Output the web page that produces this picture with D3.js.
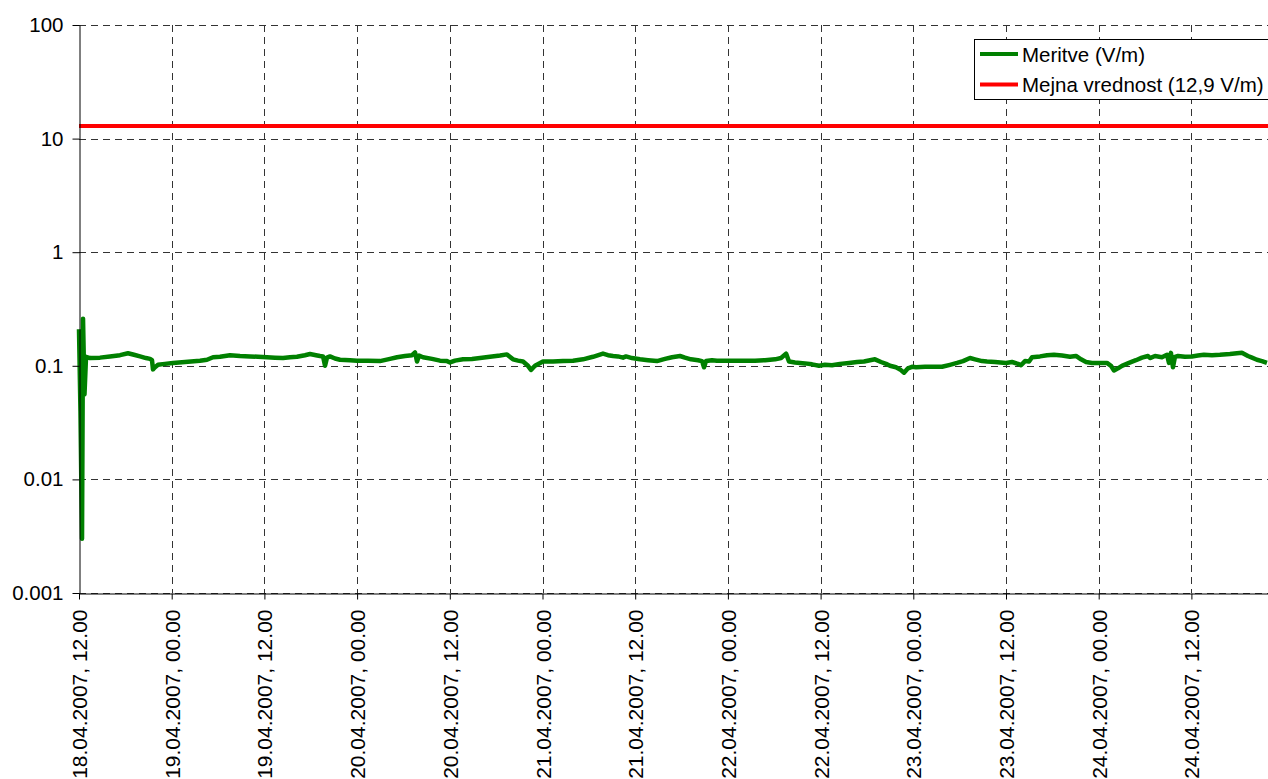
<!DOCTYPE html>
<html>
<head>
<meta charset="utf-8">
<script src="https://cdn.jsdelivr.net/npm/d3@7"></script>
<style>
  html, body { margin: 0; padding: 0; background: #fff; }
  svg { display: block; font-family: "Liberation Sans", Arial, sans-serif; }
</style>
</head>
<body>
<svg id="chart" width="1268" height="779"></svg>
<script>
// ---- data ----
const startTime = "2007-04-18T12:00:00";
const endHours = 154; // visible range end (hours after start)
// measurement times (hours after 18.04.2007 12:00)
const measHours = [
  0, 0.19, 0.39, 0.52, 0.71, 0.91, 1.42, 2.72, 4.01, 5.31, 6.34, 7.12, 7.90, 8.67, 9.19, 9.45, 9.58, 9.84, 10.23, 11.13,
  12.17, 13.72, 15.66, 16.57, 17.35, 18.25, 19.55, 20.84, 22.14, 23.17, 24.34, 25.37, 26.41, 27.31, 28.22, 29.25, 29.90,
  30.68, 31.20, 31.59, 31.85, 32.10, 32.49, 33.14, 33.79, 35.08, 35.99, 37.41, 38.96, 40.26, 41.17, 42.20, 43.11, 43.50,
  43.76, 44.02, 44.53, 45.70, 46.73, 47.64, 48.03, 48.67, 49.71, 50.87, 51.91, 53.20, 54.50, 55.40, 56.18, 56.83, 57.48,
  58.12, 58.51, 59.03, 60.06, 61.36, 62.65, 63.95, 65.24, 66.54, 67.83, 68.48, 69.13, 69.77, 70.42, 70.81, 71.59, 72.62,
  73.66, 74.82, 75.86, 76.76, 77.80, 78.44, 79.22, 80.13, 80.65, 80.91, 81.17, 81.94, 82.59, 83.88, 85.57, 87.51, 88.81,
  90.10, 90.88, 91.53, 91.91, 92.69, 93.98, 94.89, 95.79, 96.57, 97.48, 98.51, 99.68, 100.72, 101.62, 102.40, 103.04,
  103.82, 104.47, 104.98, 105.76, 106.28, 106.80, 107.31, 107.83, 108.35, 109.52, 110.81, 111.72, 112.75, 113.66, 114.44,
  115.34, 115.99, 116.90, 117.54, 118.58, 120.00, 120.78, 121.55, 121.94, 122.46, 122.98, 123.37, 124.40, 125.31, 126.21,
  127.25, 128.28, 129.06, 129.71, 130.36, 131.13, 132.17, 133.07, 133.59, 133.98, 134.50, 135.01, 135.92, 136.82, 137.60,
  138.38, 138.64, 139.29, 140.19, 140.84, 141.10, 141.35, 141.61, 141.87, 142.26, 143.16, 144.07, 144.84, 145.62, 146.66,
  147.69, 148.99, 149.89, 150.54, 151.32, 151.84, 152.48, 153.13, 153.78
];
// measured field strength (V/m)
const measValues = [
  0.21, 0.04, 0.003, 0.26, 0.056, 0.12, 0.117, 0.118, 0.121, 0.124, 0.129, 0.125, 0.121, 0.117, 0.115, 0.112, 0.093, 0.097, 0.102, 0.104,
  0.106, 0.108, 0.111, 0.113, 0.119, 0.12, 0.124, 0.122, 0.121, 0.12, 0.119, 0.118, 0.117, 0.119, 0.12, 0.124, 0.127,
  0.124, 0.122, 0.121, 0.1, 0.118, 0.121, 0.116, 0.113, 0.112, 0.111, 0.111, 0.11, 0.115, 0.119, 0.122, 0.124, 0.131,
  0.109, 0.123, 0.119, 0.115, 0.111, 0.11, 0.107, 0.111, 0.114, 0.115, 0.117, 0.12, 0.123, 0.126, 0.114, 0.111, 0.109,
  0.1, 0.092, 0.1, 0.109, 0.109, 0.11, 0.111, 0.114, 0.12, 0.128, 0.124, 0.122, 0.121, 0.118, 0.121, 0.117, 0.114,
  0.112, 0.11, 0.115, 0.119, 0.122, 0.118, 0.114, 0.112, 0.11, 0.097, 0.11, 0.112, 0.111, 0.111, 0.111, 0.111, 0.112,
  0.114, 0.117, 0.128, 0.109, 0.107, 0.105, 0.103, 0.1, 0.102, 0.101, 0.104, 0.106, 0.108, 0.109, 0.112, 0.114,
  0.108, 0.104, 0.1, 0.097, 0.093, 0.087, 0.095, 0.098, 0.097, 0.098, 0.098, 0.098, 0.102, 0.106, 0.11,
  0.117, 0.114, 0.11, 0.109, 0.108, 0.106, 0.108, 0.104, 0.101, 0.11, 0.109, 0.119, 0.121, 0.124, 0.125,
  0.123, 0.12, 0.122, 0.114, 0.108, 0.106, 0.106, 0.106, 0.1, 0.091, 0.095, 0.1, 0.106, 0.112, 0.118,
  0.122, 0.117, 0.122, 0.119, 0.125, 0.106, 0.13, 0.097, 0.12, 0.122, 0.12, 0.121, 0.123, 0.125, 0.124,
  0.125, 0.127, 0.129, 0.13, 0.122, 0.118, 0.113, 0.11, 0.106
];
const limitValue = 12.9;
const seriesNames = ["Meritve (V/m)", "Mejna vrednost (12,9 V/m)"];
const seriesColors = ["#008000", "#ff0000"];
const xTickHours = [0, 12, 24, 36, 48, 60, 72, 84, 96, 108, 120, 132, 144];
const xTickLabels = [
  "18.04.2007, 12.00", "19.04.2007, 00.00", "19.04.2007, 12.00", "20.04.2007, 00.00",
  "20.04.2007, 12.00", "21.04.2007, 00.00", "21.04.2007, 12.00", "22.04.2007, 00.00",
  "22.04.2007, 12.00", "23.04.2007, 00.00", "23.04.2007, 12.00", "24.04.2007, 00.00",
  "24.04.2007, 12.00"
];
const yTickValues = [0.001, 0.01, 0.1, 1, 10, 100];
const yTickLabels = ["0.001", "0.01", "0.1", "1", "10", "100"];

// ---- layout ----
const margin = { left: 79, top: 25 };
const plotRight = 1268.65;
const plotBottom = 593;

const t0 = new Date(startTime);
const hToDate = h => new Date(t0.getTime() + h * 3600 * 1000);

const x = d3.scaleTime()
  .domain([t0, hToDate(endHours)])
  .range([margin.left, plotRight]);
const y = d3.scaleLog()
  .domain([0.001, 100])
  .range([plotBottom, margin.top]);

const svg = d3.select("#chart");

// grid
const grid = svg.append("g").attr("class", "grid");
grid.selectAll("line.h").data(yTickValues).join("line")
  .attr("x1", margin.left).attr("x2", 1268)
  .attr("y1", d => Math.round(y(d)) + 0.5).attr("y2", d => Math.round(y(d)) + 0.5)
  .attr("stroke", "#333").attr("stroke-width", 1).attr("stroke-dasharray", "7,5");
grid.selectAll("line.v").data(xTickHours.slice(1)).join("line")
  .attr("x1", d => Math.round(x(hToDate(d))) + 0.5).attr("x2", d => Math.round(x(hToDate(d))) + 0.5)
  .attr("y1", margin.top).attr("y2", plotBottom)
  .attr("stroke", "#333").attr("stroke-width", 1).attr("stroke-dasharray", "7,5");

// limit line
svg.append("line")
  .attr("x1", margin.left).attr("x2", 1268)
  .attr("y1", y(limitValue)).attr("y2", y(limitValue))
  .attr("stroke", seriesColors[1]).attr("stroke-width", 4);

// measurement line
const meas = measHours.map((h, i) => ({ t: hToDate(h), v: measValues[i] }));
svg.append("path")
  .datum(meas)
  .attr("fill", "none")
  .attr("stroke", seriesColors[0])
  .attr("stroke-width", 4.5)
  .attr("stroke-linejoin", "round")
  .attr("d", d3.line().x(d => x(d.t)).y(d => y(d.v)));

// y axis
const yAxis = d3.axisLeft(y)
  .tickValues(yTickValues)
  .tickFormat((d, i) => yTickLabels[i])
  .tickSize(7).tickSizeOuter(0).tickPadding(9);
const gy = svg.append("g")
  .attr("transform", `translate(${margin.left + 0.5},0)`)
  .call(yAxis);
gy.select(".domain").attr("stroke", "#000");
gy.selectAll(".tick line").attr("stroke", "#000");
gy.selectAll(".tick text")
  .attr("font-size", "20.5px").attr("fill", "#000")
  .attr("font-family", "'Liberation Sans', Arial, sans-serif");

// x axis
const xAxis = d3.axisBottom(x)
  .tickValues(xTickHours.map(hToDate))
  .tickFormat((d, i) => xTickLabels[i])
  .tickSize(6).tickSizeOuter(0);
const gx = svg.append("g")
  .attr("transform", `translate(0,${plotBottom + 0.5})`)
  .call(xAxis);
gx.select(".domain").attr("stroke", "#000");
gx.selectAll(".tick line").attr("stroke", "#000");
gx.selectAll(".tick text")
  .attr("font-size", "21px").attr("fill", "#000")
  .attr("font-family", "'Liberation Sans', Arial, sans-serif")
  .attr("text-anchor", "end")
  .attr("transform", "translate(0,16) rotate(-90)")
  .attr("x", 0).attr("y", 0).attr("dy", "0.36em");

// legend
const lg = svg.append("g").attr("class", "legend");
lg.append("rect")
  .attr("x", 974.5).attr("y", 39.5).attr("width", 300).attr("height", 60)
  .attr("fill", "#fff").attr("stroke", "#000").attr("stroke-width", 1);
seriesNames.forEach((name, i) => {
  const cy = 54 + i * 30.5;
  lg.append("line")
    .attr("x1", 980).attr("x2", 1018).attr("y1", cy).attr("y2", cy)
    .attr("stroke", seriesColors[i]).attr("stroke-width", 4);
  lg.append("text")
    .attr("x", 1022).attr("y", cy + 7.5)
    .attr("font-size", "20.5px").attr("fill", "#000")
    .text(name);
});
</script>
</body>
</html>
